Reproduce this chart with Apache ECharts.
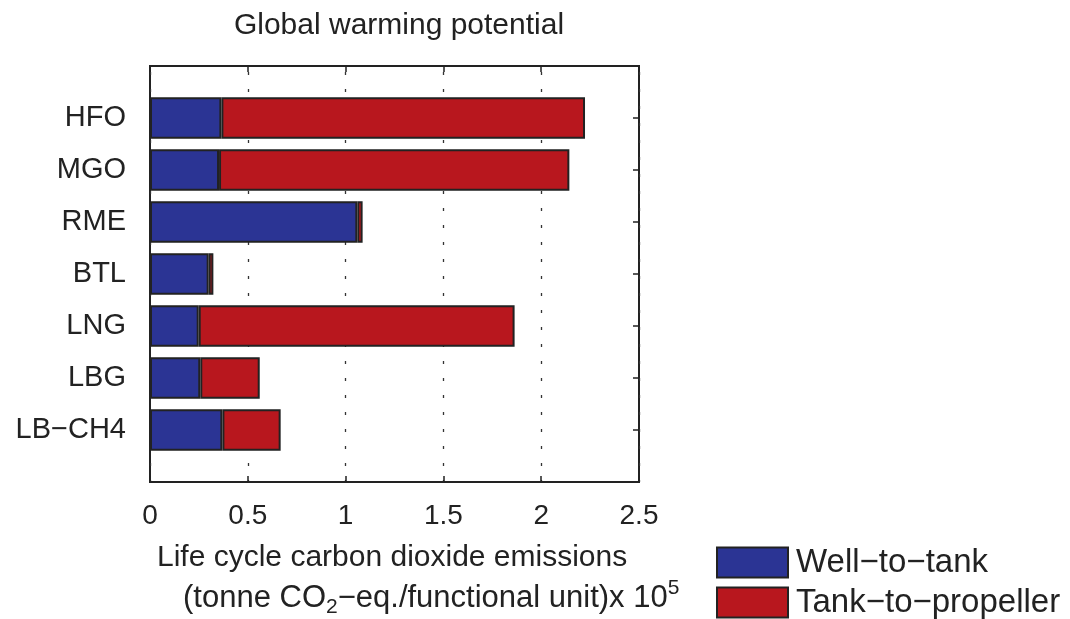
<!DOCTYPE html>
<html>
<head>
<meta charset="utf-8">
<script src="https://cdn.jsdelivr.net/npm/echarts@6/dist/echarts.min.js"></script>
<style>
  html, body { margin: 0; padding: 0; background: #fff; }
  #chart { width: 1070px; height: 619px; }
</style>
</head>
<body>
<div id="chart"></div>
<script>
const fontFamily = "'Liberation Sans', Arial, Helvetica, sans-serif"
const textColor = '#222'

const categories = ['HFO', 'MGO', 'RME', 'BTL', 'LNG', 'LBG', 'LB\u2212CH4']
// values in tonne CO2-eq./functional unit x 10^5
const wellToTank = [0.365, 0.353, 1.06, 0.3, 0.249, 0.257, 0.37]
const tankToPropeller = [1.859, 1.791, 0.027, 0.024, 1.615, 0.304, 0.298]
const seriesNames = ['Well\u2212to\u2212tank', 'Tank\u2212to\u2212propeller']
const xMin = 0
const xMax = 2.5
const xStep = 0.5

const chart = echarts.init(document.getElementById('chart'), null, { renderer: 'canvas' })

const barStyle = color => ({ color, borderColor: '#222', borderWidth: 2 })
const tickStyle = { color: '#222', width: 1.5 }

// one legend per entry so the vertical list doesn't wrap near the bottom edge
const legendFor = (name, top) => ({
  data: [name],
  left: 716,
  top,
  padding: 0,
  icon: 'rect',
  itemWidth: 71,
  itemHeight: 30,
  textStyle: { fontFamily, fontSize: 33, lineHeight: 30, color: textColor, padding: [0, 0, 0, 3] },
})

chart.setOption({
  animation: false,
  backgroundColor: '#fff',
  title: {
    text: 'Global warming potential',
    left: 394,
    textAlign: 'center',
    top: 6,
    textStyle: { fontFamily, fontSize: 30, fontWeight: 'normal', color: textColor },
  },
  legend: [legendFor(seriesNames[0], 546), legendFor(seriesNames[1], 586)],
  grid: [
    // frame with axes
    { left: 150, right: 431, top: 66, bottom: 137, show: true, borderColor: '#222', borderWidth: 2, backgroundColor: 'transparent' },
    // bars (inset so the 7 bands sit inside a 0..8 range)
    { left: 150, right: 431, top: 92, bottom: 163 },
  ],
  xAxis: [
    {
      gridIndex: 0,
      type: 'value',
      min: xMin,
      max: xMax,
      interval: xStep,
      axisLine: { show: false },
      axisTick: { show: true, inside: true, length: 6, lineStyle: tickStyle },
      axisLabel: { fontFamily, fontSize: 28, color: textColor, margin: 20 },
      splitLine: { show: true, lineStyle: { color: '#333', width: 1.3, type: [3, 14], dashOffset: -6 } },
    },
    {
      gridIndex: 0,
      type: 'value',
      position: 'top',
      min: xMin,
      max: xMax,
      interval: xStep,
      axisLine: { show: false },
      axisTick: { show: true, inside: true, length: 6, lineStyle: tickStyle },
      axisLabel: { show: false },
      splitLine: { show: false },
    },
    {
      gridIndex: 1,
      type: 'value',
      min: xMin,
      max: xMax,
      show: false,
    },
  ],
  yAxis: [
    { gridIndex: 0, type: 'value', min: 0, max: 8, show: false },
    {
      gridIndex: 1,
      type: 'category',
      data: categories,
      inverse: true,
      axisLine: { show: false },
      axisTick: { show: true, inside: true, alignWithLabel: true, length: 6, lineStyle: tickStyle },
      axisLabel: { fontFamily, fontSize: 29, color: textColor, margin: 24 },
    },
    {
      gridIndex: 1,
      type: 'category',
      position: 'right',
      data: categories,
      inverse: true,
      axisLine: { show: false },
      axisTick: { show: true, inside: true, alignWithLabel: true, length: 6, lineStyle: tickStyle },
      axisLabel: { show: false },
    },
  ],
  series: [
    {
      name: seriesNames[0],
      type: 'bar',
      stack: 'total',
      xAxisIndex: 2,
      yAxisIndex: 1,
      barWidth: '80%',
      itemStyle: barStyle('#2b3494'),
      data: wellToTank,
    },
    {
      name: seriesNames[1],
      type: 'bar',
      stack: 'total',
      xAxisIndex: 2,
      yAxisIndex: 1,
      barWidth: '80%',
      itemStyle: barStyle('#b8171e'),
      data: tankToPropeller,
    },
  ],
  graphic: [
    {
      type: 'text',
      left: 157,
      top: 543,
      style: {
        text: 'Life cycle carbon dioxide emissions',
        font: `30px ${fontFamily}`,
        fill: textColor,
      },
    },
    {
      type: 'text',
      left: 183,
      top: 578,
      style: {
        text: '(tonne CO{sub|2}\u2212eq./functional unit)x 10{sup|5}',
        font: `31px ${fontFamily}`,
        fill: textColor,
        lineHeight: 40,
        rich: {
          sub: { fontSize: 21, fontFamily, lineHeight: 22, verticalAlign: 'bottom', fill: textColor },
          sup: { fontSize: 21, fontFamily, lineHeight: 22, verticalAlign: 'top', fill: textColor },
        },
      },
    },
  ],
})
</script>
</body>
</html>
